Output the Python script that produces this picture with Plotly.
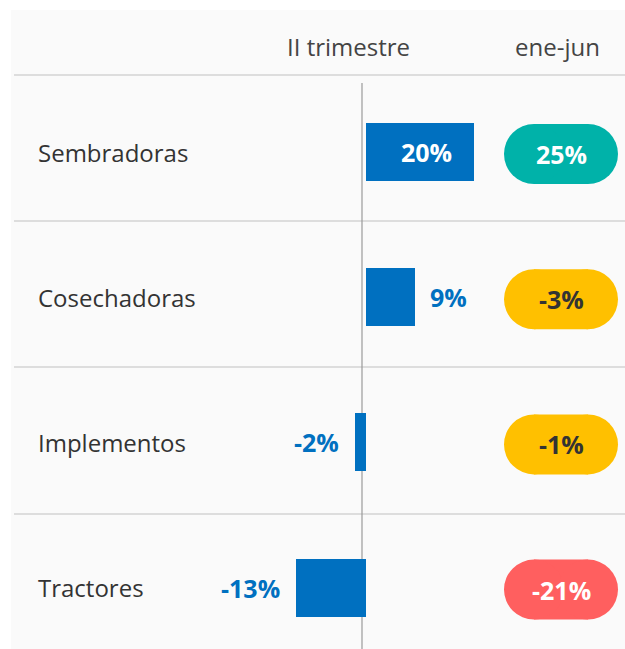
import plotly.graph_objects as go

categories = ["Sembradoras", "Cosechadoras", "Implementos", "Tractores"]
q2_values = [20, 9, -2, -13]          # II trimestre, %
h1_values = [25, -3, -1, -21]         # ene-jun, %
col_headers = ["II trimestre", "ene-jun"]

W, H = 625, 649
FONT = "Open Sans"
BLUE = "#0070C0"
DARK = "#333333"

# pixel geometry helpers (layout only)
zero_px, px_per_unit = 366, 5.4
row0_px, row_step = 152, 145.2

x_range = [-zero_px / px_per_unit, (W - zero_px) / px_per_unit]
y_range = [(H - row0_px) / row_step, -row0_px / row_step]

fig = go.Figure()
fig.add_trace(go.Bar(
    x=q2_values, y=list(range(len(categories))), orientation="h",
    marker=dict(color=BLUE, line=dict(width=0)),
    width=58 / row_step, hoverinfo="skip", showlegend=False,
))

shapes = []
annotations = []

# background panel
shapes.append(dict(type="rect", xref="paper", yref="paper", x0=11 / W, x1=1,
                   y0=0, y1=1 - 10 / H, fillcolor="#fafafa", line=dict(width=0),
                   layer="below"))
# separator lines
for ypx in [75, 221, 367, 514]:
    shapes.append(dict(type="line", xref="paper", yref="paper", x0=14 / W, x1=1,
                       y0=1 - ypx / H, y1=1 - ypx / H,
                       line=dict(color="#dddddd", width=2), layer="below"))
# zero line
shapes.append(dict(type="line", xref="paper", yref="paper", x0=362 / W, x1=362 / W,
                   y0=0, y1=1 - 83 / H, line=dict(color="#9a9a9a", width=1.2),
                   layer="below"))

# headers
for txt, cx in zip(col_headers, [348, 557]):
    annotations.append(dict(text=txt, xref="paper", yref="paper", x=cx / W,
                            y=1 - 46 / H, xanchor="center", yanchor="middle",
                            showarrow=False, font=dict(family=FONT, size=24, color="#444444")))

def pill_color(v):
    if v >= 5:
        return "#00B2A9", "white"
    if v <= -10:
        return "#FF5F5F", "white"
    return "#FFC000", DARK

pill_cx = 561 / W
for i, (cat, q, h) in enumerate(zip(categories, q2_values, h1_values)):
    annotations.append(dict(text=cat, xref="paper", yref="y", x=36 / W, y=i,
                            xanchor="left", yanchor="middle", showarrow=False,
                            font=dict(family=FONT, size=24, color=DARK)))
    # bar label
    if q >= 15:
        annotations.append(dict(text=f"{q}%", xref="x", yref="y", x=q, y=i,
                                xanchor="right", yanchor="middle", xshift=-20,
                                showarrow=False,
                                font=dict(family=FONT, size=25, color="white", weight="bold")))
    else:
        annotations.append(dict(text=f"{q}%", xref="x", yref="y", x=q, y=i,
                                xanchor="left" if q >= 0 else "right", yanchor="middle",
                                xshift=13 if q >= 0 else -14, showarrow=False,
                                font=dict(family=FONT, size=25, color=BLUE, weight="bold")))
    # pill
    fill, tcol = pill_color(h)
    common = dict(xref="paper", yref="y", xsizemode="pixel", ysizemode="pixel",
                  xanchor=pill_cx, yanchor=i, fillcolor=fill, line=dict(width=0),
                  layer="above")
    shapes.append(dict(type="rect", x0=-27, x1=27, y0=-32, y1=28, **common))
    shapes.append(dict(type="circle", x0=-57, x1=3, y0=-32, y1=28, **common))
    shapes.append(dict(type="circle", x0=-3, x1=57, y0=-32, y1=28, **common))
    annotations.append(dict(text=f"{h}%", xref="paper", yref="y", x=pill_cx, y=i,
                            xanchor="center", yanchor="middle", showarrow=False,
                            yshift=-2,
                            font=dict(family=FONT, size=25, color=tcol, weight="bold")))

fig.update_layout(
    width=W, height=H, autosize=False,
    margin=dict(l=0, r=0, t=0, b=0),
    paper_bgcolor="white", plot_bgcolor="rgba(0,0,0,0)",
    xaxis=dict(range=x_range, visible=False, fixedrange=True),
    yaxis=dict(range=y_range, visible=False, fixedrange=True),
    shapes=shapes, annotations=annotations,
    bargap=0,
)

fig.write_html("out.html", config={"displayModeBar": False},
               post_script="document.body.style.margin='0';document.body.style.overflow='hidden';")
